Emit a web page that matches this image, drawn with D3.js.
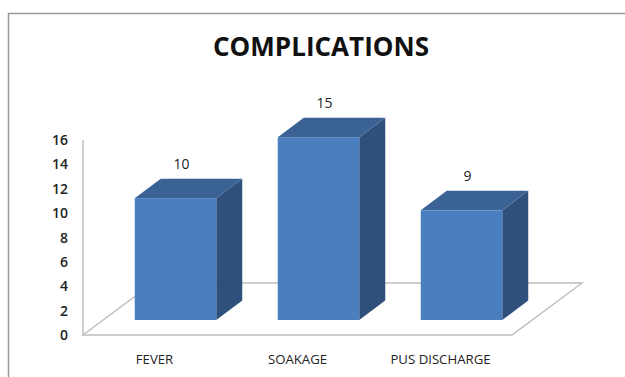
<!DOCTYPE html>
<html><head><meta charset="utf-8">
<script src="https://cdn.jsdelivr.net/npm/d3@7"></script>
<style>body{margin:0;background:#fff}svg{display:block}</style>
</head><body>
<script>
const categories = ["FEVER", "SOAKAGE", "PUS DISCHARGE"];
const values = [10, 15, 9];
const yTicks = [0, 2, 4, 6, 8, 10, 12, 14, 16];
const title = "COMPLICATIONS";

const W = 625, H = 377;
const svg = d3.select("body").append("svg").attr("width", W).attr("height", H);

// frame
svg.append("rect").attr("x", 8.5).attr("y", 13.5).attr("width", 640).attr("height", 400)
  .attr("fill", "#fff").attr("stroke", "#9a9a9a").attr("stroke-width", 1.5);

// title
const t = svg.append("text").attr("x", 321).attr("y", 56).attr("text-anchor", "middle")
  .attr("font-family", "Open Sans").attr("font-weight", 700).attr("font-size", 27)
  .attr("fill", "#111").text(title);
t.attr("textLength", 216).attr("lengthAdjust", "spacingAndGlyphs");

const x0 = 83, x1 = 512, floorDx = 70, floorDy = 52;
const y = d3.scaleLinear().domain([0, 16]).range([335, 140]);
const x = d3.scaleBand().domain(categories).range([x0, x1]).paddingInner(0.43).paddingOuter(0.215);

// floor
const yb = y(0);
svg.append("polygon")
  .attr("points", [[x0, yb], [x1, yb], [x1 + floorDx, yb - floorDy], [x0 + floorDx, yb - floorDy]].map(p => p.join(",")).join(" "))
  .attr("fill", "#fff").attr("stroke", "#bdbdbd").attr("stroke-width", 1.4);

// vertical axis line
svg.append("line").attr("x1", x0).attr("x2", x0).attr("y1", y(16)).attr("y2", y(0))
  .attr("stroke", "#bdbdbd").attr("stroke-width", 1.4);

// y tick labels
svg.append("g").selectAll("text").data(yTicks).join("text")
  .attr("x", 68).attr("y", d => y(d)).attr("dy", "0.36em").attr("text-anchor", "end")
  .attr("font-family", "Open Sans").attr("font-weight", 600).attr("font-size", 14)
  .attr("fill", "#222").text(d => d);

// bars
const offX = 21, offY = 15, dX = 26, dY = 19.5;
const bw = x.bandwidth();
const g = svg.append("g");
categories.forEach((c, i) => {
  const v = values[i];
  const L = x(c) + offX, R = L + bw, B = yb - offY, T = B - (y(0) - y(v));
  g.append("polygon").attr("points", [[R, B], [R + dX, B - dY], [R + dX, T - dY], [R, T]].map(p => p.join(",")).join(" "))
    .attr("fill", "#30507c");
  g.append("polygon").attr("points", [[L, T], [R, T], [R + dX, T - dY], [L + dX, T - dY]].map(p => p.join(",")).join(" "))
    .attr("fill", "#3a6295");
  g.append("rect").attr("x", L).attr("y", T).attr("width", bw).attr("height", B - T).attr("fill", "#4b7ebe");
  svg.append("text").attr("x", L + bw / 2 + 6).attr("y", T - dY - 10)
    .attr("text-anchor", "middle").attr("font-family", "Open Sans").attr("font-size", 14)
    .attr("fill", "#222").text(v);
});

// category labels
svg.append("g").selectAll("text").data(categories).join("text")
  .attr("x", d => x(d) + bw / 2).attr("y", 364).attr("text-anchor", "middle")
  .attr("font-family", "Open Sans").attr("font-size", 13.2).attr("fill", "#222").text(d => d);
</script>
</body></html>
